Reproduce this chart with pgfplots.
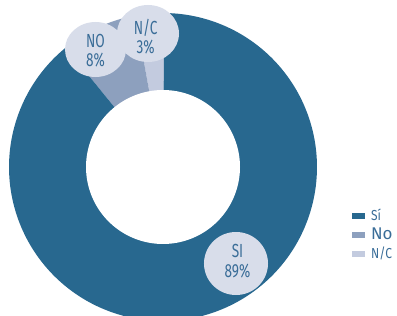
\documentclass[border=0pt]{standalone}
\usepackage{pgfplots}
\pgfplotsset{compat=1.18}
\usepackage{pgfplotstable}
\usepackage{fontspec}
\setmainfont{Fira Sans}[FakeStretch=0.72]
\newfontfamily\legfont{Fira Sans}[FakeStretch=0.83]
\newfontfamily\nofont{Fira Sans}
\definecolor{si}{HTML}{28688F}
\definecolor{no}{HTML}{8DA0BE}
\definecolor{nc}{HTML}{C3CBDF}
\definecolor{bub}{HTML}{D8DDEA}
\definecolor{txt}{HTML}{3A6D98}
\pgfplotstableread{
label value
NC 3
NO 8
SI 89
}\datatable
\begin{document}
\begin{tikzpicture}
\pgfplotstablegetelem{0}{value}\of\datatable \let\vNC\pgfplotsretval
\pgfplotstablegetelem{1}{value}\of\datatable \let\vNO\pgfplotsretval
\pgfplotstablegetelem{2}{value}\of\datatable \let\vSI\pgfplotsretval
\pgfmathsetmacro\aA{89.5}
\pgfmathsetmacro\aB{\aA+3.6*\vNC}
\pgfmathsetmacro\aC{\aB+3.6*\vNO}
\pgfmathsetmacro\aD{\aC+3.6*\vSI}
\begin{axis}[
  scale only axis, x=1bp, y=1bp,
  xmin=-163, xmax=234, ymin=-149, ymax=167,
  hide axis,
  legend style={at={(axis cs:188.5,-67.5)}, anchor=west, draw=none, fill=none,
    inner sep=0pt, row sep=3bp, font=\legfont\fontsize{14.5}{14.5}\selectfont, text=txt,
    nodes={inner sep=1.5bp}},
  legend cell align=left,
]
\addplot[draw=none, fill=nc, domain=\aA:\aB, samples=20, variable=\t, forget plot]
  ({154*cos(\t)},{154*sin(\t)}) -- (axis cs:0,0) -- cycle;
\addplot[draw=none, fill=no, domain=\aB:\aC, samples=30, variable=\t, forget plot]
  ({154*cos(\t)},{154*sin(\t)}) -- (axis cs:0,0) -- cycle;
\addplot[draw=none, fill=si, domain=\aC:\aD, samples=200, variable=\t, forget plot]
  ({154*cos(\t)},{154*sin(\t)}) -- (axis cs:0,0) -- cycle;
\addplot[draw=none, fill=white, domain=0:360, samples=150, variable=\t, forget plot]
  ({77*cos(\t)},{77*sin(\t)}) -- cycle;
\fill[bub] (axis cs:-67.5,117.5) ellipse [x radius=30.5bp, y radius=27.5bp];
\fill[bub] (axis cs:-15,133.5) ellipse [x radius=31bp, y radius=28.5bp];
\fill[bub] (axis cs:73,-96.5) ellipse [x radius=32bp, y radius=31.5bp];
\node[text=txt, align=center, font=\fontsize{19}{19.5}\selectfont] at (axis cs:-67.5,116.5) {NO\\8\%};
\node[text=txt, align=center, font=\fontsize{19}{19.5}\selectfont] at (axis cs:-17.3,130.5) {N/C\\3\%};
\node[text=txt, align=center, font=\fontsize{19}{20}\selectfont] at (axis cs:74.5,-94) {SI\\89\%};
\addlegendimage{legend image code/.code={\fill[si] (0bp,-2.5bp) rectangle (12bp,2.5bp); \path (17.5bp,0bp);}}
\addlegendentry{Sí}
\addlegendimage{legend image code/.code={\fill[no] (0bp,-2.5bp) rectangle (12bp,2.5bp); \path (17.5bp,0bp);}}
\addlegendentry{{\nofont\fontsize{17}{17}\selectfont No}}
\addlegendimage{legend image code/.code={\fill[nc] (0bp,-2.5bp) rectangle (12bp,2.5bp); \path (17.5bp,0bp);}}
\addlegendentry{N/C}
\end{axis}
\pgfresetboundingbox
\path (current axis.south west) rectangle (current axis.north east);
\end{tikzpicture}
\end{document}
